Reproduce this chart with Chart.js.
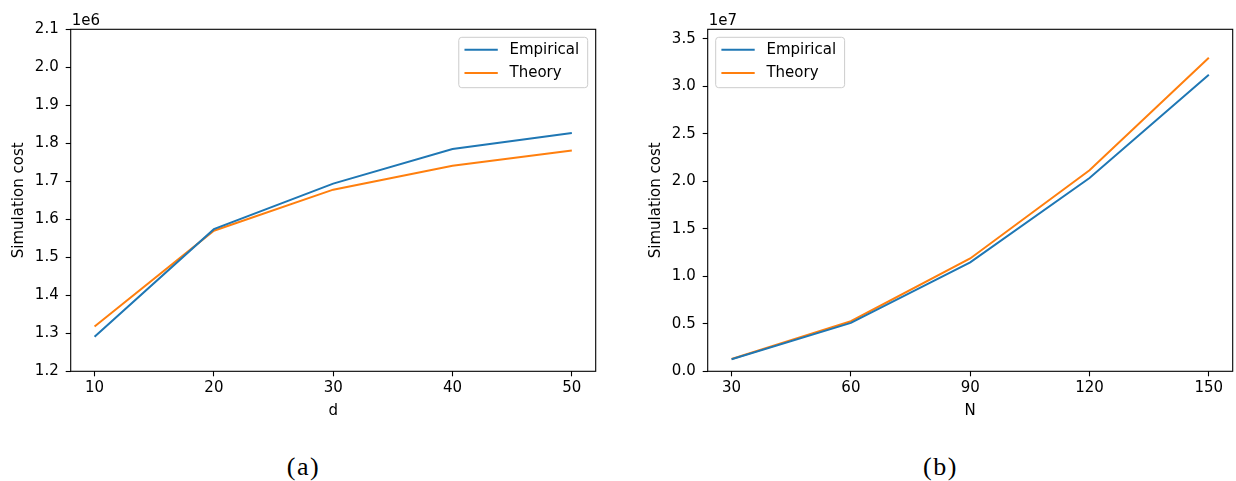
<!DOCTYPE html>
<html>
<head>
<meta charset="utf-8">
<script src="https://cdn.jsdelivr.net/npm/chart.js@4.4.1/dist/chart.umd.min.js"></script>
<style>
  html, body { margin: 0; padding: 0; background: #ffffff; }
  #wrap { position: relative; width: 1236px; height: 481px; background: #ffffff; overflow: hidden; }
  .panel { position: absolute; top: 0; }
  .caption { position: absolute; top: 452px; font-family: "Liberation Serif", "DejaVu Serif", serif; font-size: 26px; color: #000; transform: translateX(-50%); letter-spacing: 1.5px; line-height: 30px; }
</style>
</head>
<body>
<div id="wrap">
  <div class="panel" style="left:0px;"><canvas id="chartA" width="637" height="430"></canvas></div>
  <div class="panel" style="left:637px;"><canvas id="chartB" width="599" height="430"></canvas></div>
  <div class="caption" style="left:303.5px;">(a)</div>
  <div class="caption" style="left:940.5px;">(b)</div>
</div>
<script>
// ---------- data ----------
const seriesLabels = ["Empirical", "Theory"];
const seriesColors = ["#1f77b4", "#ff7f0e"];

// panel (a)
const dValues      = [10, 20, 30, 40, 50];
const empiricalA   = [1.291e6, 1.574e6, 1.694e6, 1.785e6, 1.827e6];
const theoryA      = [1.318e6, 1.570e6, 1.678e6, 1.741e6, 1.781e6];
const xTicksA      = [10, 20, 30, 40, 50];
const yTicksA      = [1.2, 1.3, 1.4, 1.5, 1.6, 1.7, 1.8, 1.9, 2.0, 2.1]; // x 1e6
const xLabelA      = "d";
const exponentA    = "1e6";

// panel (b)
const nValues      = [30, 60, 90, 120, 150];
const empiricalB   = [1.27e6, 5.10e6, 1.146e7, 2.035e7, 3.121e7];
const theoryB      = [1.30e6, 5.27e6, 1.188e7, 2.116e7, 3.300e7];
const xTicksB      = [30, 60, 90, 120, 150];
const yTicksB      = [0.0, 0.5, 1.0, 1.5, 2.0, 2.5, 3.0, 3.5]; // x 1e7
const xLabelB      = "N";
const exponentB    = "1e7";

const yLabel = "Simulation cost";

// ---------- helpers ----------
const FONT = "'DejaVu Sans', sans-serif";
const FS = 15;
Chart.defaults.font.family = FONT;
Chart.defaults.color = "#000";

function pts(xs, ys) { return xs.map((x, i) => ({ x: x, y: ys[i] })); }

const frameAndLegend = {
  id: "frameAndLegend",
  afterDraw(chart, args, opts) {
    const ctx = chart.ctx;
    const a = chart.chartArea;
    ctx.save();
    // frame (all four spines)
    ctx.strokeStyle = "#000";
    ctx.lineWidth = 1.1;
    ctx.strokeRect(a.left, a.top, a.right - a.left, a.bottom - a.top);
    // exponent label
    ctx.font = FS + "px " + FONT;
    ctx.fillStyle = "#000";
    ctx.textAlign = "left";
    ctx.textBaseline = "alphabetic";
    ctx.fillText(opts.exponent, a.left + 1, a.top - 4.3);
    // legend
    const ds = chart.data.datasets;
    let tw = 0;
    ds.forEach(d => { tw = Math.max(tw, ctx.measureText(d.label).width); });
    const w = 50.7 + tw + 8.5;
    const h = 50.4;
    const bx = opts.legendPos === "right" ? a.right - 8 - w : a.left + 8;
    const by = a.top + 8;
    ctx.fillStyle = "rgba(255,255,255,0.8)";
    ctx.strokeStyle = "#cccccc";
    ctx.lineWidth = 1;
    ctx.beginPath();
    ctx.roundRect(bx, by, w, h, 3);
    ctx.fill();
    ctx.stroke();
    ds.forEach((d, i) => {
      const y = by + 12.5 + i * 23.3;
      ctx.strokeStyle = d.borderColor;
      ctx.lineWidth = 2;
      ctx.beginPath();
      ctx.moveTo(bx + 5.7, y);
      ctx.lineTo(bx + 39, y);
      ctx.stroke();
      ctx.fillStyle = "#000";
      ctx.textBaseline = "middle";
      ctx.fillText(d.label, bx + 50.7, y + 0.5);
    });
    ctx.restore();
  }
};

function makeChart(id, xs, emp, theo, xTicks, yTicks, yScale, xMin, xMax, yMin, yMax, xLabel, exponent, legendPos, padRight) {
  return new Chart(document.getElementById(id), {
    type: "line",
    data: {
      datasets: [
        { label: seriesLabels[0], data: pts(xs, emp), borderColor: seriesColors[0], backgroundColor: seriesColors[0], borderWidth: 2, pointRadius: 0, tension: 0, fill: false },
        { label: seriesLabels[1], data: pts(xs, theo), borderColor: seriesColors[1], backgroundColor: seriesColors[1], borderWidth: 2, pointRadius: 0, tension: 0, fill: false }
      ]
    },
    options: {
      responsive: false,
      animation: false,
      devicePixelRatio: 1,
      layout: { padding: { top: 29.3, right: padRight, bottom: 0, left: 0 } },
      plugins: {
        legend: { display: false },
        tooltip: { enabled: false },
        frameAndLegend: { exponent: exponent, legendPos: legendPos }
      },
      scales: {
        x: {
          type: "linear",
          min: xMin, max: xMax,
          afterBuildTicks: s => { s.ticks = xTicks.map(v => ({ value: v })); },
          afterFit: s => { s.height = 58.7; },
          grid: { display: true, drawOnChartArea: false, drawTicks: true, tickLength: 5, tickColor: "#000", tickWidth: 1.1 },
          border: { display: false },
          ticks: { font: { size: FS }, color: "#000", padding: 3, maxRotation: 0, callback: v => String(v) },
          title: { display: true, text: xLabel, font: { size: FS }, color: "#000", padding: { top: 0, bottom: 9.6 } }
        },
        y: {
          type: "linear",
          min: yMin, max: yMax,
          afterBuildTicks: s => { s.ticks = yTicks.map(v => ({ value: v * yScale })); },
          afterFit: s => { s.width = 70.7; },
          grid: { display: true, drawOnChartArea: false, drawTicks: true, tickLength: 5, tickColor: "#000", tickWidth: 1.1 },
          border: { display: false },
          ticks: { font: { size: FS }, color: "#000", padding: 7, callback: v => (v / yScale).toFixed(1) },
          title: { display: true, text: yLabel, font: { size: FS }, color: "#000", padding: { top: 10, bottom: 0 } }
        }
      }
    },
    plugins: [frameAndLegend]
  });
}

makeChart("chartA", dValues, empiricalA, theoryA, xTicksA, yTicksA, 1e6, 8, 52, 1.2e6, 2.1e6, xLabelA, exponentA, "right", 41.3);
makeChart("chartB", nValues, empiricalB, theoryB, xTicksB, yTicksB, 1e7, 24, 156, 0, 3.6e7, xLabelB, exponentB, "left", 3.3);
</script>
</body>
</html>
